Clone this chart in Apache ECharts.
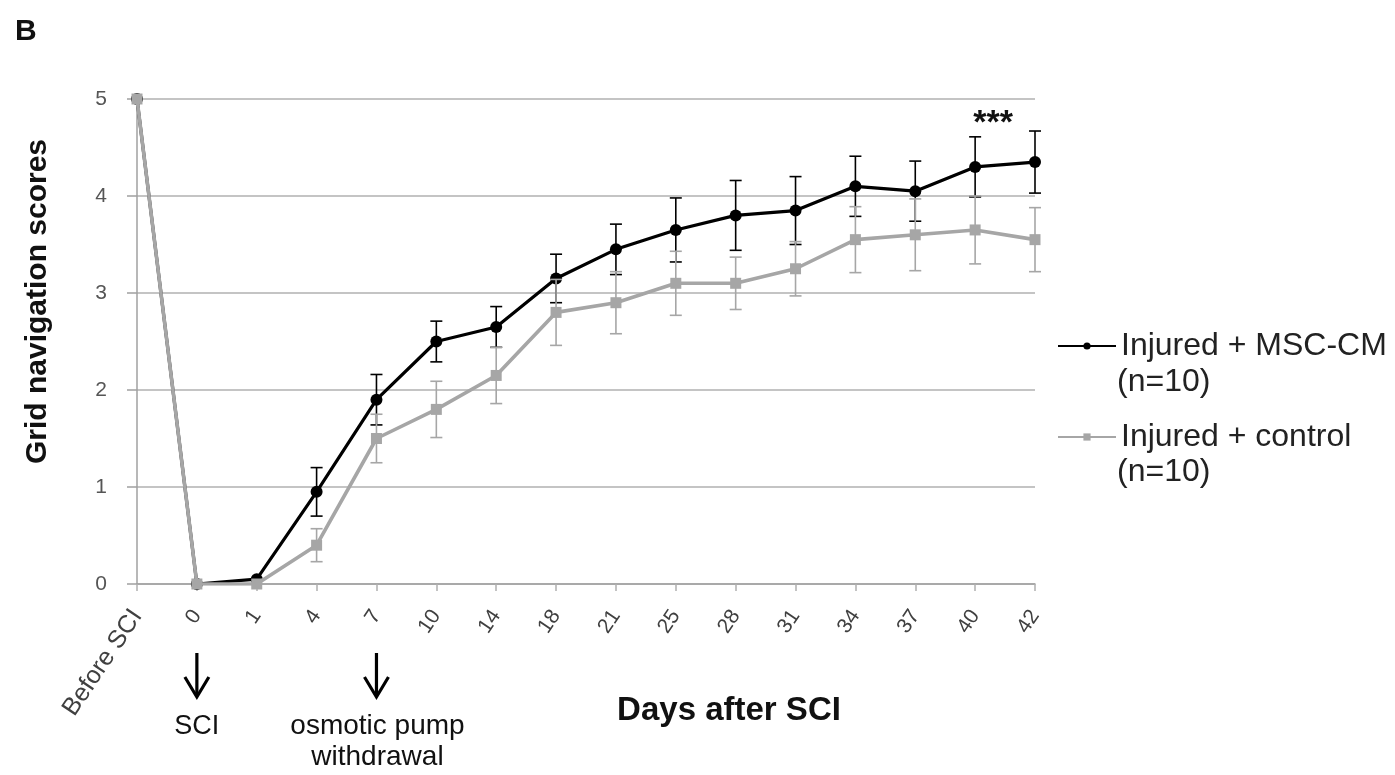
<!DOCTYPE html>
<html>
<head>
<meta charset="utf-8">
<script src="https://cdn.jsdelivr.net/npm/echarts@6/dist/echarts.min.js"></script>
<style>
html,body{margin:0;padding:0;background:#fff;}
#c{width:1395px;height:775px;}
</style>
</head>
<body>
<div id="c"></div>
<script>
const categories = ['Before SCI','0','1','4','7','10','14','18','21','25','28','31','34','37','40','42'];
const mscMean = [5, 0, 0.05, 0.95, 1.9, 2.5, 2.65, 3.15, 3.45, 3.65, 3.8, 3.85, 4.1, 4.05, 4.3, 4.35];
const mscErr  = [0, 0, 0, 0.25, 0.26, 0.21, 0.21, 0.25, 0.26, 0.33, 0.36, 0.35, 0.31, 0.31, 0.31, 0.32];
const ctrlMean = [5, 0, 0, 0.4, 1.5, 1.8, 2.15, 2.8, 2.9, 3.1, 3.1, 3.25, 3.55, 3.6, 3.65, 3.55];
const ctrlErr  = [0, 0, 0, 0.17, 0.25, 0.29, 0.29, 0.34, 0.32, 0.33, 0.27, 0.28, 0.34, 0.37, 0.35, 0.33];
const yTicks = [0, 1, 2, 3, 4, 5];
const seriesNames = ['Injured + MSC-CM', 'Injured + control'];

const BLACK = '#000000';
const GRAY = '#a6a6a6';
const FONT = 'Liberation Sans, Arial, sans-serif';

function errSeries(name, mean, err, color, z) {
  return {
    type: 'custom',
    name: name + ' err',
    z: z,
    silent: true,
    data: categories.map((c, i) => [i, mean[i], err[i]]),
    renderItem: function (params, api) {
      const x = api.value(0), m = api.value(1), e = api.value(2);
      if (!e) return null;
      const t = api.coord([x, m + e]);
      const b = api.coord([x, m - e]);
      const w = 6;
      const st = { stroke: color, lineWidth: 1.6 };
      return {
        type: 'group',
        children: [
          { type: 'line', shape: { x1: t[0], y1: t[1], x2: b[0], y2: b[1] }, style: st },
          { type: 'line', shape: { x1: t[0] - w, y1: t[1], x2: t[0] + w, y2: t[1] }, style: st },
          { type: 'line', shape: { x1: b[0] - w, y1: b[1], x2: b[0] + w, y2: b[1] }, style: st }
        ]
      };
    }
  };
}

const chart = echarts.init(document.getElementById('c'));
const option = {
  animation: false,
  backgroundColor: '#fff',
  grid: { left: 137, right: 360, top: 99, bottom: 191, containLabel: false },
  xAxis: {
    type: 'category',
    data: categories,
    boundaryGap: false,
    axisLine: { lineStyle: { color: '#a0a0a0', width: 1.5 } },
    axisTick: { show: true, alignWithLabel: true, length: 7, lineStyle: { color: '#b0b0b0', width: 1.5 } },
    axisLabel: {
      rotate: 56, interval: 0, margin: 28, fontSize: 21, color: '#404040', fontFamily: FONT,
      formatter: v => v === categories[0] ? '{big|' + v + '}' : v,
      rich: { big: { fontSize: 25, color: '#404040', fontFamily: FONT } }
    }
  },
  yAxis: {
    type: 'value',
    min: 0, max: 5, interval: 1,
    axisLine: { show: true, lineStyle: { color: '#a0a0a0', width: 1.5 } },
    axisTick: { show: true, length: 10, lineStyle: { color: '#a0a0a0', width: 1.5 } },
    axisLabel: { fontSize: 21, color: '#555', margin: 30, fontFamily: FONT,
      formatter: v => yTicks.includes(v) ? String(v) : '' },
    splitLine: { show: true, lineStyle: { color: '#c4c4c4', width: 2 } },
    name: 'Grid navigation scores',
    nameLocation: 'middle',
    nameGap: 84,
    nameRotate: 90,
    nameTextStyle: { fontSize: 30, fontWeight: 'bold', color: '#111', fontFamily: FONT, padding: [0, 0, 0, 80] }
  },
  legend: {
    orient: 'vertical',
    left: 1052,
    top: 323,
    itemWidth: 58,
    itemHeight: 9,
    itemGap: 55,
    data: seriesNames,
    textStyle: { fontSize: 32, lineHeight: 36, color: '#222', fontFamily: FONT }
  },
  series: [
    errSeries(seriesNames[0], mscMean, mscErr, BLACK, 3),
    {
      name: seriesNames[0], type: 'line', data: mscMean, z: 4,
      symbol: 'circle', symbolSize: 12,
      lineStyle: { color: BLACK, width: 3.2 },
      itemStyle: { color: BLACK }
    },
    errSeries(seriesNames[1], ctrlMean, ctrlErr, GRAY, 5),
    {
      name: seriesNames[1], type: 'line', data: ctrlMean, z: 6,
      symbol: 'rect', symbolSize: 11,
      lineStyle: { color: GRAY, width: 3.6 },
      itemStyle: { color: GRAY }
    }
  ]
};
chart.setOption(option);

function px(cat, val) { return chart.convertToPixel({ xAxisIndex: 0, yAxisIndex: 0 }, [cat, val]); }
const p0 = px('0', 0), p7 = px('7', 0), p40 = px('40', 4.75);

function arrow(x) {
  return [
    { type: 'line', shape: { x1: x, y1: 653, x2: x, y2: 696 }, style: { stroke: '#000', lineWidth: 3.2 } },
    { type: 'polyline', shape: { points: [[x - 12, 677], [x, 697], [x + 12, 677]] }, style: { stroke: '#000', lineWidth: 3.2, fill: null } }
  ];
}
const txt = (x, y, s, size, weight) => ({
  type: 'text', x: x, y: y,
  style: { text: s, fontSize: size, fontWeight: weight || 'normal', fill: '#111', fontFamily: FONT, align: 'center', verticalAlign: 'middle' }
});

chart.setOption({
  graphic: [].concat(
    arrow(p0[0]), arrow(p7[0]),
    [
      { type: 'text', x: 15, y: 17, style: { text: 'B', fontSize: 30, fontWeight: 'bold', fill: '#111', fontFamily: FONT, verticalAlign: 'top' } },
      txt(p0[0], 727, 'SCI', 27),
      txt(p7[0] + 1, 726, 'osmotic pump', 28),
      txt(p7[0] + 1, 757, 'withdrawal', 28),
      txt(729, 711, 'Days after SCI', 33, 'bold'),
      txt(p40[0] + 18, p40[1], '***', 34, 'bold'),
      { type: 'text', x: 1117, y: 382, style: { text: '(n=10)', fontSize: 32, fill: '#222', fontFamily: FONT, verticalAlign: 'middle' } },
      { type: 'text', x: 1117, y: 472, style: { text: '(n=10)', fontSize: 32, fill: '#222', fontFamily: FONT, verticalAlign: 'middle' } }
    ]
  )
});
</script>
</body>
</html>
